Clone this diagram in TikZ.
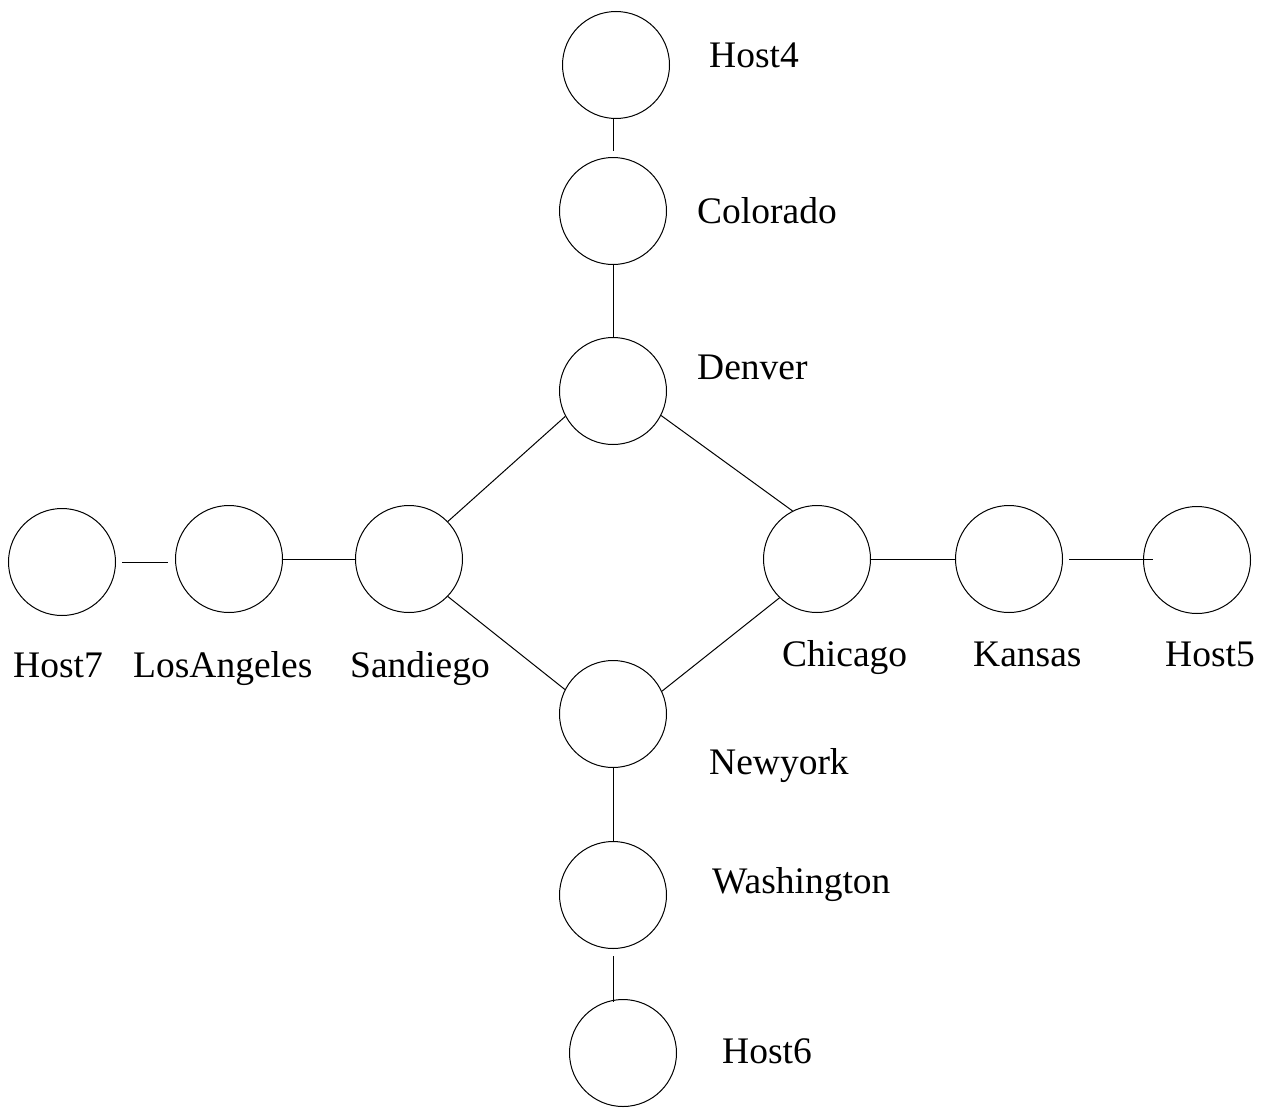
\documentclass[tikz,border=0pt]{standalone}
\usepackage{fontspec}
\setmainfont{Liberation Serif}
\begin{document}
\begin{tikzpicture}[x=1pt,y=-1pt,
  site/.style={circle,draw,line width=1pt,minimum size=107pt,inner sep=0pt},
  tag/.style={anchor=base west,inner sep=0pt,font=\fontsize{37.5}{40}\selectfont},
  link/.style={line width=1pt}]
\useasboundingbox (0,0) rectangle (1271,1108);
% sites
\node[site] (host4) at (616,65) {};
\node[site] (colorado) at (613,211) {};
\node[site] (denver) at (613,391) {};
\node[site] (host7) at (62,562) {};
\node[site] (losangeles) at (229,559) {};
\node[site] (sandiego) at (409,559) {};
\node[site] (chicago) at (817,559) {};
\node[site] (kansas) at (1009,559) {};
\node[site] (host5) at (1197,560) {};
\node[site] (newyork) at (613,714) {};
\node[site] (washington) at (613,895) {};
\node[site] (host6) at (623,1053) {};
% names
\node[tag] (t-host4) at (709,67) {Host4};
\node[tag] (t-colorado) at (697,223) {Colorado};
\node[tag] (t-denver) at (697,379) {Denver};
\node[tag] (t-host7) at (13,677) {Host7};
\node[tag] (t-losangeles) at (133,677) {LosAngeles};
\node[tag] (t-sandiego) at (350,677) {Sandiego};
\node[tag] (t-chicago) at (782,666) {Chicago};
\node[tag] (t-kansas) at (973,666) {Kansas};
\node[tag] (t-host5) at (1165,666) {Host5};
\node[tag] (t-newyork) at (709,774) {Newyork};
\node[tag] (t-washington) at (712,893) {Washington};
\node[tag] (t-host6) at (722,1063) {Host6};
% links
\draw[link,shorten >=6pt] (colorado.north |- host4.south) -- (colorado.north);
\draw[link] (colorado.south) -- (colorado.south |- denver.north);
\draw[link] (denver.208) -- (sandiego.44);
\draw[link] (denver.333) -- (chicago.117);
\draw[link] (sandiego.316) -- (newyork.153);
\draw[link] (chicago.226) -- (newyork.25);
\draw[link,shorten <=6pt,shorten >=7pt] (host7.east) -- (losangeles.west |- host7.east);
\draw[link] (losangeles.east) -- (sandiego.west);
\draw[link] (chicago.east) -- (kansas.west);
\draw[link,shorten <=6pt,shorten >=-10pt] (kansas.east) -- (host5.west |- kansas.east);
\draw[link] (newyork.south) -- (washington.north);
\draw[link,shorten <=7pt,shorten >=-3pt] (washington.south) -- (washington.south |- host6.north);
\end{tikzpicture}
\end{document}
